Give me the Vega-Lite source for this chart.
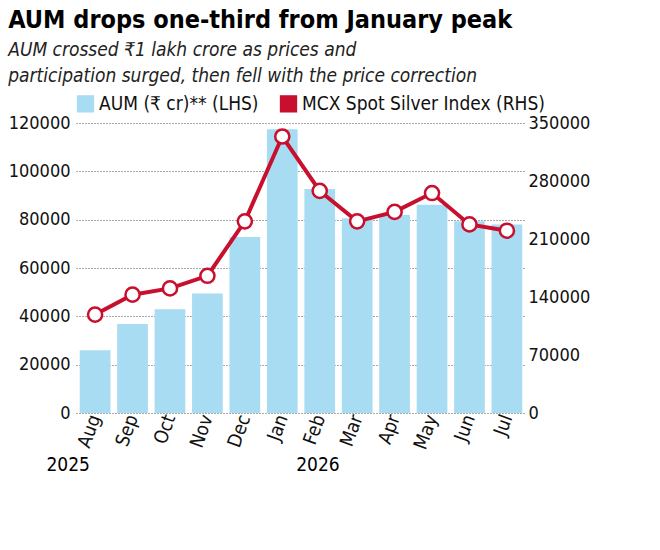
{
"$schema":"https://vega.github.io/schema/vega-lite/v6.json",
"width":450,"height":290,
"background":"white",
"padding":{"left":8,"top":8,"right":5,"bottom":5},
"config":{"font":"DejaVu Sans Condensed","view":{"stroke":null}},
"title":{"text":"AUM drops one-third from January peak","subtitle":["AUM crossed ₹1 lakh crore as prices and","participation surged, then fell with the price correction"],"anchor":"start","fontSize":25,"fontWeight":"bold","subtitleFontSize":19,"subtitleFontStyle":"italic","subtitleColor":"#222","subtitlePadding":8,"subtitleLineHeight":26,"offset":8},
"data":{"values":[
{"m":"Aug","aum":26000,"idx":118800},
{"m":"Sep","aum":36800,"idx":142800},
{"m":"Oct","aum":42900,"idx":150400},
{"m":"Nov","aum":49400,"idx":165600},
{"m":"Dec","aum":72800,"idx":231300},
{"m":"Jan","aum":117400,"idx":333700},
{"m":"Feb","aum":92700,"idx":268000},
{"m":"Mar","aum":80600,"idx":231300},
{"m":"Apr","aum":81900,"idx":242700},
{"m":"May","aum":86200,"idx":265500},
{"m":"Jun","aum":79300,"idx":227600},
{"m":"Jul","aum":78000,"idx":220000}
]},
"encoding":{"x":{"field":"m","type":"nominal","sort":null,"scale":{"paddingInner":0.18,"paddingOuter":0.1},
"axis":{"labelAngle":-70,"labelFontSize":19,"labelColor":"#111","domain":false,"ticks":false,"title":"2025\u00a0\u00a0\u00a0\u00a0\u00a0\u00a0\u00a0\u00a0\u00a0\u00a0\u00a0\u00a0\u00a0\u00a0\u00a0\u00a0\u00a0\u00a0\u00a0\u00a0\u00a0\u00a0\u00a0\u00a0\u00a0\u00a0\u00a0\u00a0\u00a0\u00a0\u00a0\u00a0\u00a0\u00a0\u00a0\u00a0\u00a0\u00a02026","titleFontSize":19,"titleFontWeight":"normal","titleAnchor":"start","titleAlign":"left","titleX":-30,"titlePadding":4}}},
"layer":[
{"mark":{"type":"bar"},
"encoding":{"y":{"field":"aum","type":"quantitative","scale":{"domain":[0,120000]},
"axis":{"values":[0,20000,40000,60000,80000,100000,120000],"format":"d","labelFontSize":18,"labelColor":"#111","title":null,"domain":false,"ticks":false,"gridDash":[1,2],"gridColor":"#555","labelPadding":6}},
"color":{"datum":"AUM (₹ cr)** (LHS)","type":"nominal","scale":{"domain":["AUM (₹ cr)** (LHS)","MCX Spot Silver Index (RHS)"],"range":["#a8dcf2","#c8102e"]},
"legend":{"orient":"top","title":null,"labelFontSize":19,"labelLimit":0,"labelColor":"#111","symbolSize":250,"offset":8,"direction":"horizontal","columnPadding":18}}}},
{"layer":[
{"mark":{"type":"line","strokeWidth":4,"color":"#c8102e"},"encoding":{"color":{"datum":"MCX Spot Silver Index (RHS)","type":"nominal"}}},
{"mark":{"type":"point","filled":true,"fill":"white","stroke":"#c8102e","strokeWidth":2.5,"size":200,"opacity":1}}
],
"encoding":{"y":{"field":"idx","type":"quantitative","scale":{"domain":[0,350000]},
"axis":{"orient":"right","values":[0,70000,140000,210000,280000,350000],"format":"d","labelFontSize":18,"labelColor":"#111","title":null,"domain":false,"ticks":false,"grid":false}}}}
],
"resolve":{"scale":{"y":"independent"}}
}
